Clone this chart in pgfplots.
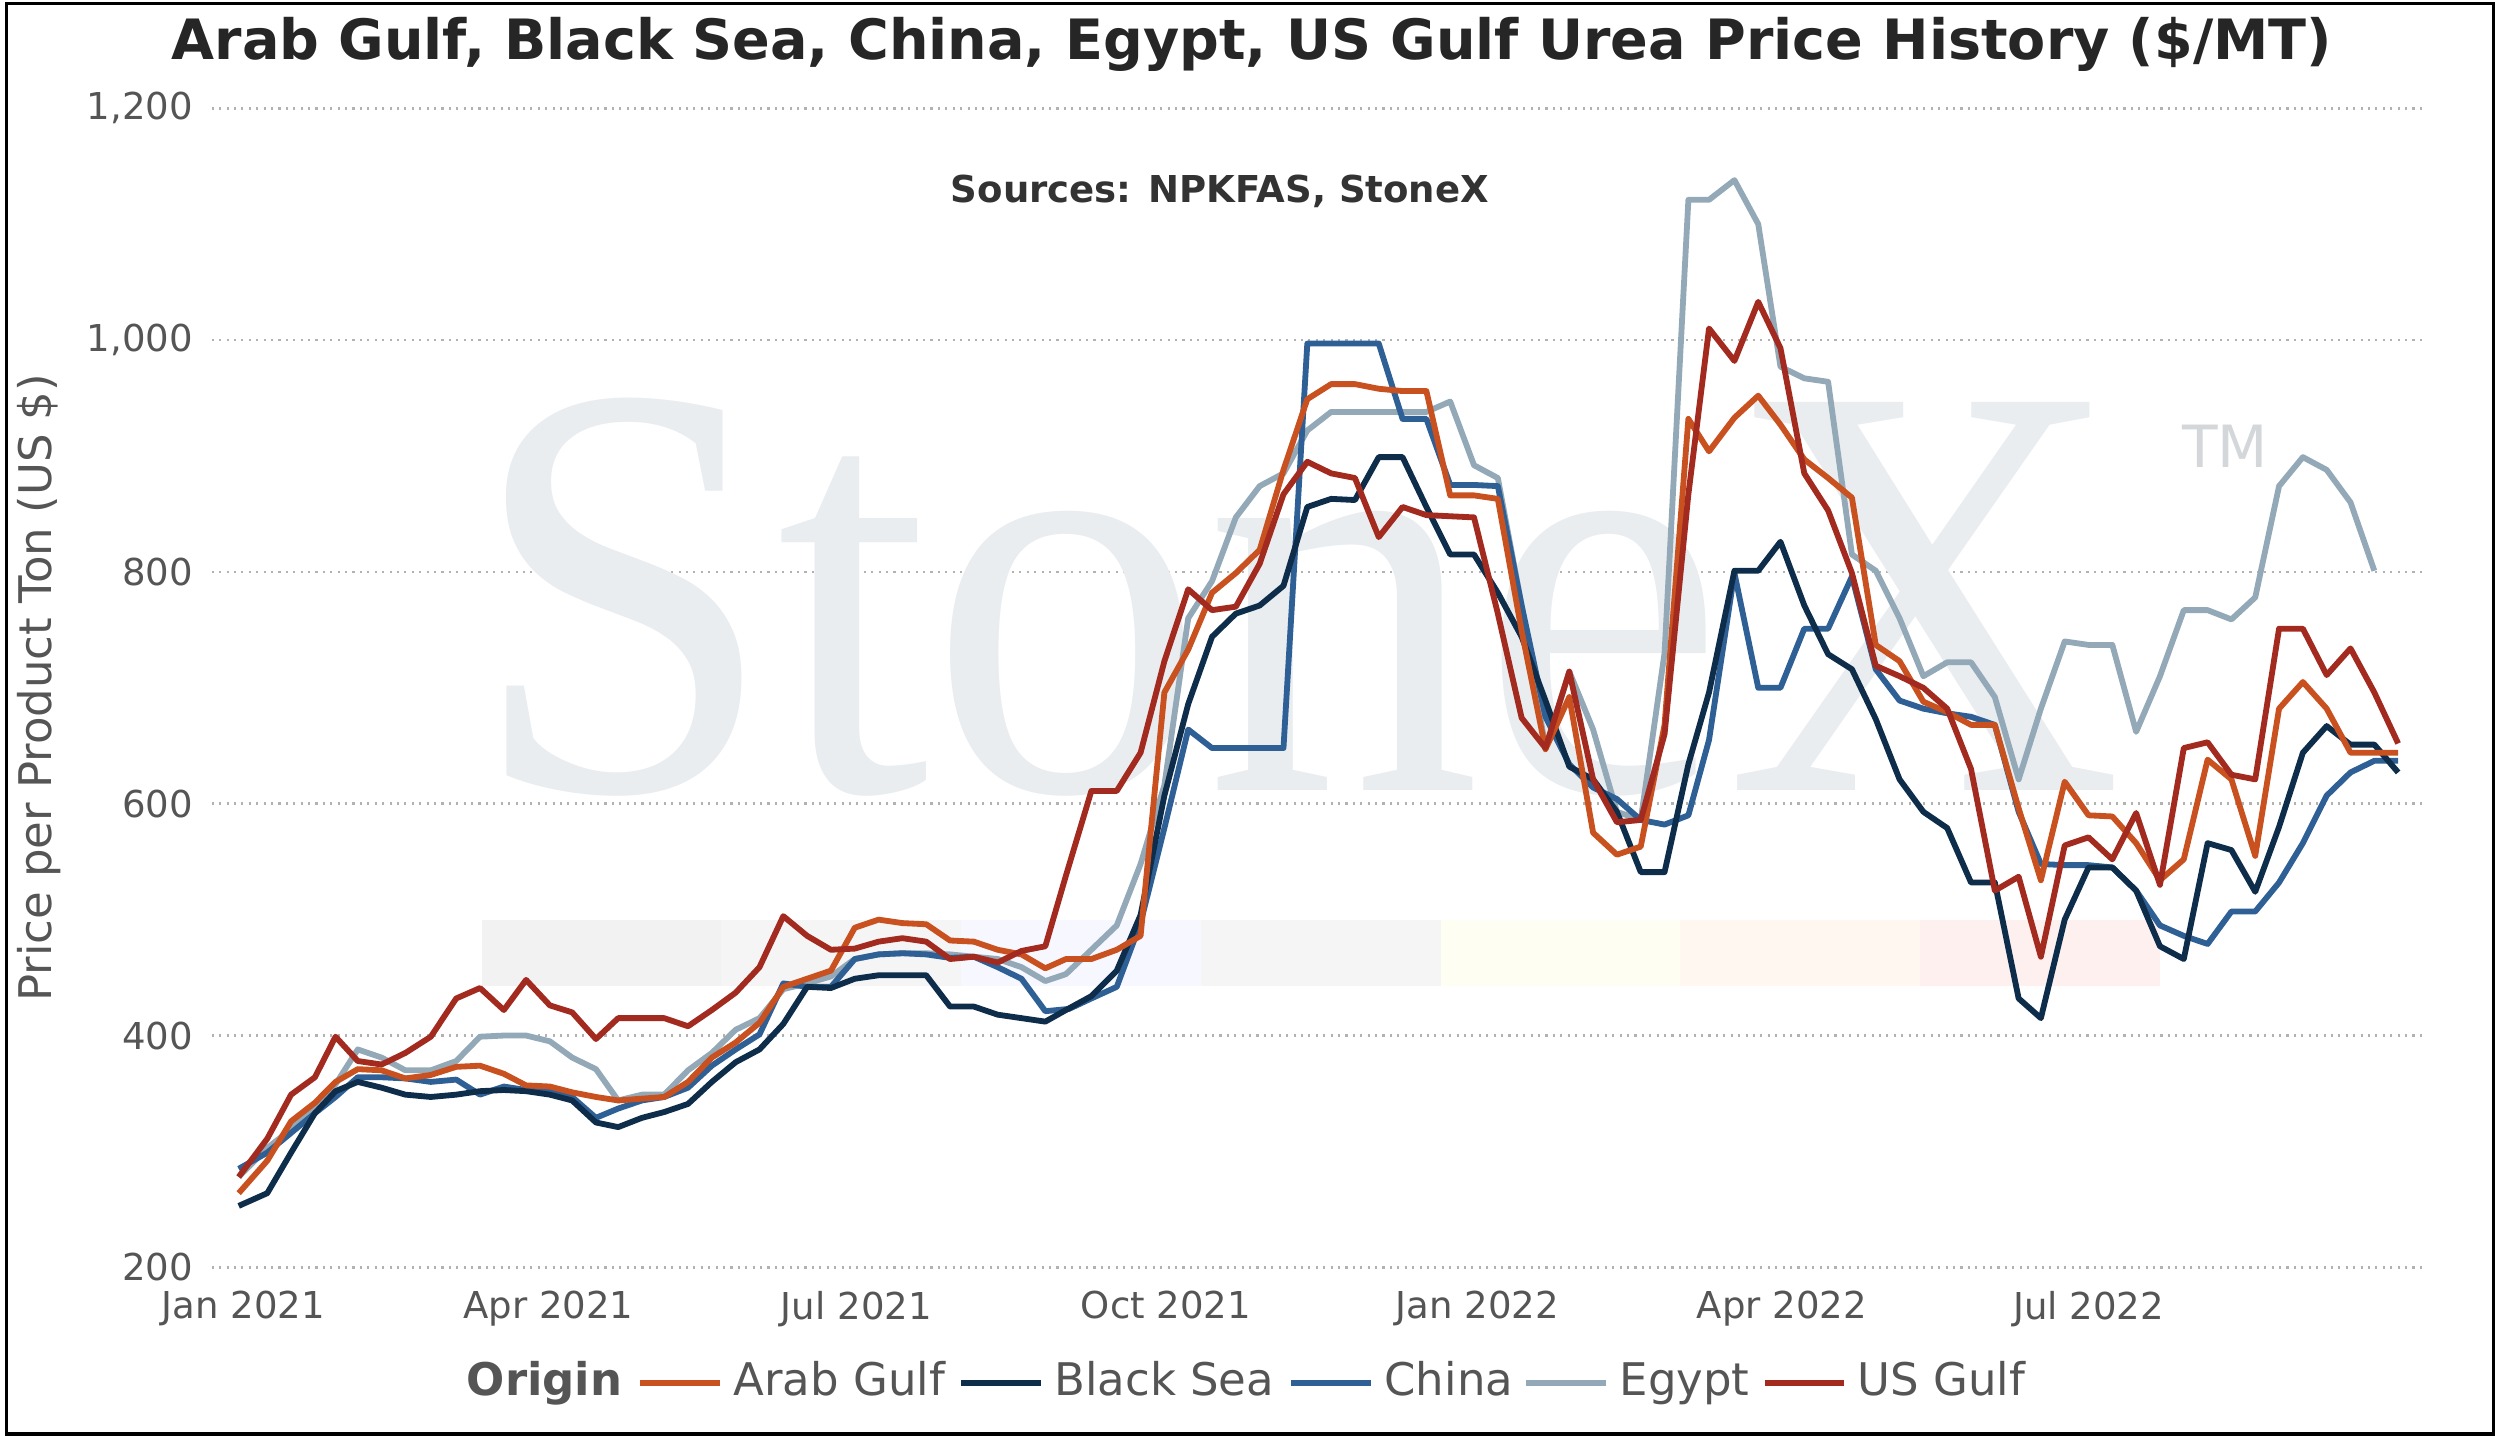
\documentclass[border=0pt]{standalone}
\usepackage{pgfplots}
\pgfplotsset{compat=1.18}
\usepackage{fontspec}
\setmainfont{DejaVu Sans}
\newfontfamily\wmfont{Liberation Serif}
\definecolor{cAG}{HTML}{C8511F}
\definecolor{cBS}{HTML}{0E2D4B}
\definecolor{cCN}{HTML}{2E5F95}
\definecolor{cEG}{HTML}{93A9B8}
\definecolor{cUS}{HTML}{A32A1E}
\definecolor{tk}{HTML}{555555}
\definecolor{wm}{HTML}{E9EDF0}
\begin{document}
\begin{tikzpicture}
\begin{scope}[x=0.3pt,y=0.3pt]
\useasboundingbox (0,0) rectangle (1568,903);
\end{scope}
\begin{axis}[at={(39pt,31.8pt)},anchor=south west,
 scale only axis, width=417.6pt, height=219pt,
 xmin=130, xmax=1522, ymin=200, ymax=1200,
 axis line style={draw=none}, tick style={draw=none},
 xtick={150,342,536,731,927,1119,1312},
 xticklabels={Jan 2021,Apr 2021,Jul 2021,Oct 2021,Jan 2022,Apr 2022,Jul 2022},
 ytick={200,400,600,800,1000,1200},
 ymajorgrids, grid style={densely dotted, gray!60, line width=0.5pt},
 /pgf/number format/assume math mode=true,
 /pgf/number format/1000 sep={,},
 tick label style={font=\fontsize{7}{8}\selectfont, text=tk},
 xticklabel style={yshift=-1pt},
 ylabel={Price per Product Ton (US \$)}, ylabel style={font=\fontsize{8.5}{10}\selectfont, text=tk, yshift=-2pt},
 clip=false, line join=round]
% watermark
\node[anchor=base west, text=wm, font=\wmfont\fontsize{112}{112}\selectfont, inner sep=0, xscale=0.93] at (axis cs:292,611) {StoneX};
\node[text=wm!80!gray, font=\fontsize{11}{11}\selectfont] at (axis cs:1398,908) {TM};
\fill[gray!10] (axis cs:300,443) rectangle (axis cs:451,500);
\fill[blue!3!gray!8] (axis cs:451,443) rectangle (axis cs:602,500);
\fill[blue!3] (axis cs:602,443) rectangle (axis cs:753,500);
\fill[green!4!gray!8] (axis cs:753,443) rectangle (axis cs:904,500);
\fill[yellow!5] (axis cs:904,443) rectangle (axis cs:1055,500);
\fill[orange!6] (axis cs:1055,443) rectangle (axis cs:1206,500);
\fill[red!6] (axis cs:1206,443) rectangle (axis cs:1357,500);
\node[font=\bfseries\fontsize{7}{9}\selectfont, text=black!80] at (axis cs:765,1128) {Sources: NPKFAS, StoneX};
% Egypt
\addplot[cEG, line width=1.1pt] coordinates {(147,278)(165,303)(180,319)(195,340)(208,358)(222,388)(237,381)(252,370)(268,370)(284,378)(299,399)(314,400)(328,400)(343,395)(357,381)(372,371)(386,344)(401,349)(415,349)(430,370)(445,385)(460,405)(475,415)(490,440)(505,445)(520,451)(535,466)(550,470)(565,471)(580,471)(595,470)(610,468)(625,466)(640,459)(655,447)(668,453)(684,474)(700,495)(715,548)(730,616)(745,760)(760,792)(775,847)(790,874)(805,885)(820,922)(835,938)(850,938)(865,938)(880,938)(895,938)(910,947)(925,892)(940,881)(955,771)(970,648)(985,714)(1000,664)(1015,593)(1030,586)(1045,730)(1060,1121)(1073,1121)(1089,1138)(1104,1100)(1118,977)(1133,967)(1148,964)(1163,815)(1178,801)(1193,760)(1208,710)(1223,722)(1238,722)(1253,692)(1268,621)(1282,682)(1297,740)(1312,737)(1327,737)(1342,662)(1357,710)(1372,767)(1387,767)(1402,759)(1417,778)(1432,874)(1447,899)(1462,888)(1477,860)(1492,801)};
% China
\addplot[cCN, line width=1.1pt] coordinates {(147,285)(165,299)(180,316)(195,333)(208,347)(222,364)(237,364)(252,363)(268,360)(284,362)(299,349)(314,356)(328,353)(343,352)(357,347)(372,329)(386,337)(401,344)(415,347)(430,355)(445,374)(460,388)(475,401)(490,445)(505,442)(520,442)(535,466)(550,470)(565,471)(580,470)(595,467)(610,468)(625,459)(640,449)(655,421)(670,423)(684,432)(700,442)(715,497)(730,579)(745,664)(760,648)(775,648)(790,648)(805,648)(820,997)(835,997)(850,997)(865,997)(880,932)(895,932)(910,875)(925,875)(940,874)(955,771)(970,675)(985,634)(1000,614)(1015,604)(1030,586)(1045,582)(1060,590)(1073,655)(1089,799)(1104,700)(1118,700)(1133,751)(1148,751)(1163,796)(1178,716)(1193,689)(1208,682)(1223,678)(1238,675)(1253,668)(1268,593)(1282,548)(1297,547)(1312,547)(1327,545)(1342,525)(1357,495)(1372,486)(1387,479)(1402,507)(1417,507)(1432,532)(1447,566)(1462,607)(1477,627)(1492,637)(1507,637)};
% Black Sea
\addplot[cBS, line width=1.1pt] coordinates {(147,253)(165,264)(180,299)(195,333)(208,352)(222,360)(237,355)(252,349)(268,347)(284,349)(299,352)(314,353)(328,352)(343,349)(357,344)(372,325)(386,321)(401,329)(415,334)(430,341)(445,360)(460,377)(475,388)(490,410)(505,442)(520,441)(535,449)(550,452)(565,452)(580,452)(595,425)(610,425)(625,418)(640,415)(655,412)(668,422)(684,434)(700,456)(715,504)(730,607)(745,686)(760,744)(775,764)(790,771)(805,788)(820,856)(835,863)(850,862)(865,899)(880,899)(895,856)(910,815)(925,815)(940,782)(955,744)(970,689)(985,632)(1000,621)(1015,593)(1030,541)(1045,541)(1060,634)(1073,696)(1089,801)(1104,801)(1118,826)(1133,771)(1148,729)(1163,716)(1178,673)(1193,621)(1208,593)(1223,579)(1238,532)(1253,532)(1268,432)(1282,415)(1297,500)(1312,545)(1327,545)(1342,525)(1357,477)(1372,466)(1387,566)(1402,560)(1417,524)(1432,580)(1447,644)(1462,667)(1477,651)(1492,651)(1507,627)};
% Arab Gulf
\addplot[cAG, line width=1.1pt] coordinates {(147,264)(165,292)(180,326)(195,342)(208,360)(222,371)(237,370)(252,363)(268,366)(284,373)(299,374)(314,367)(328,357)(343,356)(357,351)(372,347)(386,344)(415,347)(430,360)(445,381)(460,394)(475,411)(490,442)(505,449)(520,456)(535,493)(550,500)(565,497)(580,496)(595,482)(610,481)(625,474)(640,470)(655,458)(668,466)(684,466)(700,474)(715,486)(730,696)(745,733)(760,782)(775,799)(790,819)(805,888)(820,949)(835,962)(850,962)(865,958)(880,956)(895,956)(910,866)(925,866)(940,863)(955,749)(970,647)(985,692)(1000,575)(1015,556)(1030,563)(1045,668)(1060,932)(1073,904)(1089,933)(1104,952)(1118,927)(1133,897)(1148,881)(1163,864)(1178,737)(1193,723)(1208,688)(1223,679)(1238,668)(1253,668)(1268,596)(1282,534)(1297,619)(1312,590)(1327,589)(1342,566)(1357,534)(1372,552)(1387,638)(1402,621)(1417,555)(1432,682)(1447,705)(1462,682)(1477,644)(1492,644)(1507,644)};
% US Gulf
\addplot[cUS, line width=1.1pt] coordinates {(147,278)(165,311)(180,349)(195,364)(208,399)(222,378)(237,375)(252,385)(268,399)(284,432)(299,441)(314,422)(328,448)(343,426)(357,420)(372,397)(386,415)(415,415)(430,408)(445,422)(460,437)(475,459)(490,503)(505,486)(520,474)(535,475)(550,481)(565,484)(580,481)(595,466)(610,468)(625,463)(640,473)(655,477)(668,538)(684,611)(700,611)(715,644)(730,723)(745,785)(760,767)(775,770)(790,807)(805,867)(820,895)(835,885)(850,881)(865,830)(880,856)(895,849)(910,848)(925,847)(940,764)(955,674)(970,648)(985,714)(1000,621)(1015,584)(1030,586)(1045,660)(1060,867)(1073,1010)(1089,982)(1104,1033)(1118,993)(1133,885)(1148,853)(1163,799)(1178,719)(1193,710)(1208,700)(1223,682)(1238,630)(1253,525)(1268,537)(1282,468)(1297,564)(1312,571)(1327,552)(1342,592)(1357,530)(1372,648)(1387,653)(1402,625)(1417,621)(1432,751)(1447,751)(1462,711)(1477,734)(1492,696)(1507,652)};
\end{axis}
\begin{scope}[x=0.3pt,y=0.3pt]
\node[font=\bfseries\fontsize{10.5}{12}\selectfont, text=black!85] at (785,876) {Arab Gulf, Black Sea, China, Egypt, US Gulf Urea Price History (\$/MT)};
\begin{scope}[font=\fontsize{8.5}{10}\selectfont]
\node[anchor=base west, text=tk, font=\bfseries\fontsize{8.5}{10}\selectfont, inner sep=0] at (290,25) {Origin};
\foreach \c/\t/\x in {cAG/Arab Gulf/400, cBS/Black Sea/602, cCN/China/810, cEG/Egypt/958, cUS/US Gulf/1108}{
 \draw[\c, line width=1.1pt] (\x,33) -- (\x+50,33);
 \node[anchor=base west, text=tk, inner sep=0] at (\x+58,25) {\t};
}
\end{scope}
\draw[black, line width=0.6pt] (1,1) rectangle (1567,902);
\end{scope}
\end{tikzpicture}
\end{document}
